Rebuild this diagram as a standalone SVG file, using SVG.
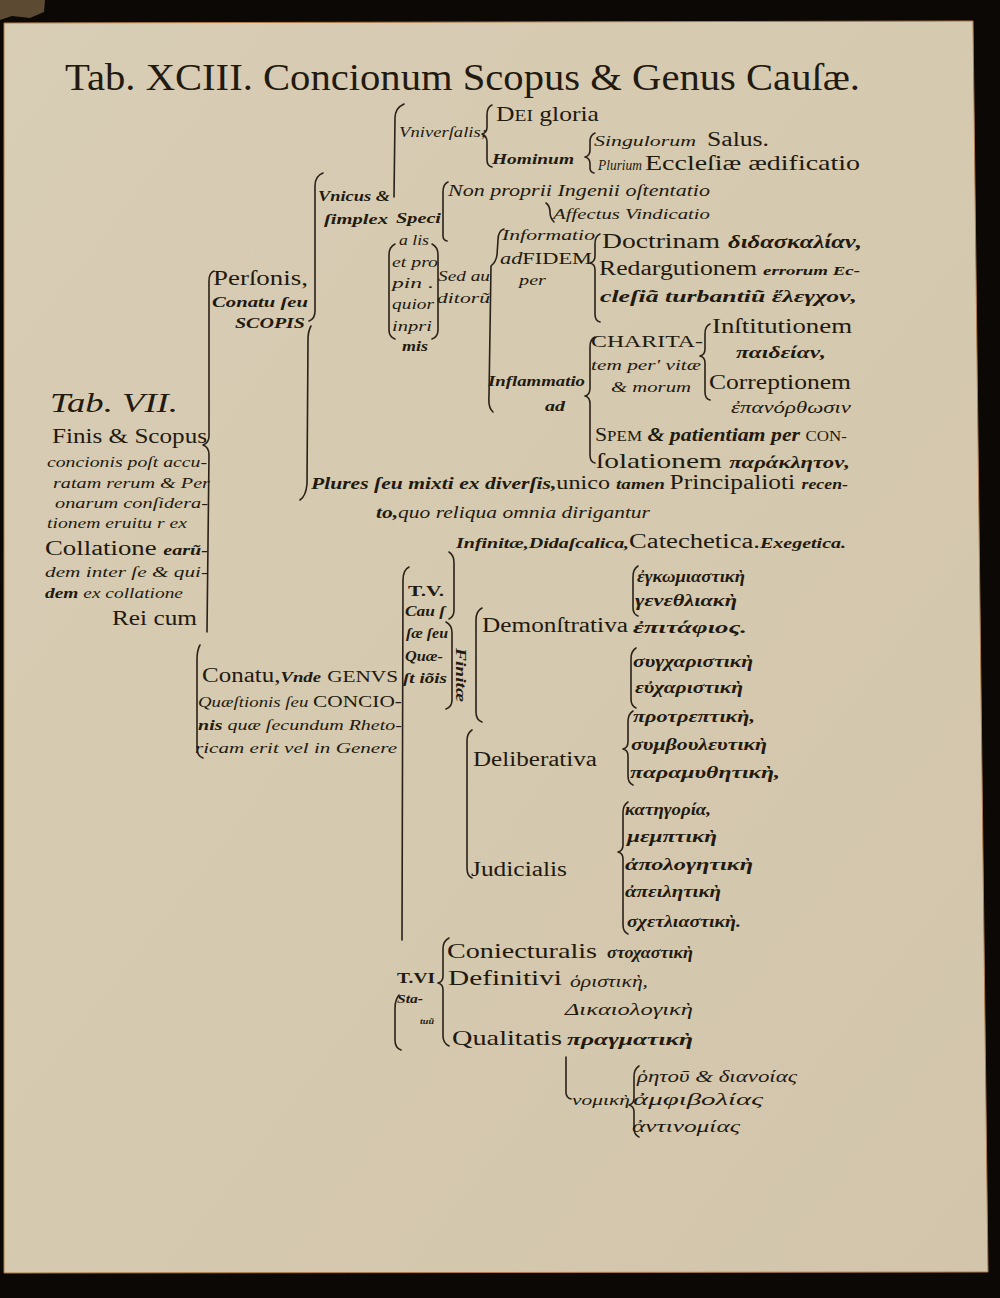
<svg xmlns="http://www.w3.org/2000/svg" width="1000" height="1298" viewBox="0 0 1000 1298">
<style>
.r{font-family:"Liberation Serif","Times New Roman",Times,serif;fill:#22190f}
.i{font-family:"Liberation Serif","Times New Roman",Times,serif;font-style:italic;fill:#22190f}
.b{font-weight:bold}
.c{fill:none;stroke:#2a2117;stroke-width:1.6;stroke-linecap:round;stroke-linejoin:round}
</style>
<defs>
<linearGradient id="paper" x1="0" y1="0" x2="1" y2="1">
<stop offset="0" stop-color="#d8cdb5"/>
<stop offset="0.5" stop-color="#d5c9af"/>
<stop offset="1" stop-color="#d2c5ab"/>
</linearGradient>
</defs>
<rect x="0" y="0" width="1000" height="1298" fill="#0b0806"/>
<polygon points="4,23 973,21 988,1272 4,1273" fill="url(#paper)" stroke="#b07a45" stroke-width="1"/>
<path d="M0,0 L45,0 L44,12 L30,18 L12,16 L0,20 Z" fill="#5c4a33"/>

<g id="title"><text class="r" x="65" y="90" font-size="38" textLength="795" lengthAdjust="spacingAndGlyphs">Tab. XCIII. Concionum Scopus &amp; Genus Cauſæ.</text></g>

<g id="connectors">
<path class="c" d="M214,271 Q209,273 209,281 L209,436 Q209,443 203,445 Q209,447 209,455 L207,632"/>
<path class="c" d="M200,645 Q197,650 197,660 L197,748 Q197,756 203,758"/>
<path class="c" d="M323,173 Q315,176 315,186 L315,311 Q315,319 309,321"/>
<path class="c" d="M311,326 Q308,331 308,340 L307,484 Q306,496 300,500"/>
<path class="c" d="M404,104 Q395,108 395,118 L394,197"/>
<path class="c" d="M492,105 Q487,107 487,115 L487,127 Q487,133 482,134 Q487,136 487,142 L487,160 Q487,166 492,167"/>
<path class="c" d="M595,133 Q590,135 590,142 L590,150 Q590,156 585,157 Q590,158 590,164 L590,168 Q590,172 594,173"/>
<path class="c" d="M448,182 Q443,184 443,192 L443,236 Q443,240 447,241"/>
<path class="c" d="M546,203 Q550,206 550,212 Q550,218 554,222"/>
<path class="c" d="M432,244 Q438,247 438,255 L438,330 Q438,337 432,339"/>
<path class="c" d="M395,244 Q389,247 389,255 L389,330 Q389,337 395,339"/>
<path class="c" d="M504,229 Q498,231 498,240 L497,255 Q496,262 491,266 L489,396 Q488,408 493,412"/>
<path class="c" d="M600,234 Q595,236 595,244 L595,256 Q595,262 590,263 Q595,264 595,270 L595,314 Q595,321 600,322"/>
<path class="c" d="M595,337 Q590,339 590,347 L590,388 Q590,395 585,396 Q590,397 590,404 L590,455 Q590,462 595,463"/>
<path class="c" d="M710,324 Q705,326 705,334 L705,349 Q705,355 700,356 Q705,357 705,363 L705,392 Q705,399 710,400"/>
<path class="c" d="M409,567 Q403,570 403,580 L402,940"/>
<path class="c" d="M399,995 Q395,1000 395,1008 L395,1040 Q395,1048 401,1050"/>
<path class="c" d="M449,552 Q454,555 454,563 L454,610 Q454,617 449,619"/>
<path class="c" d="M446,622 Q452,625 452,633 L452,700 Q452,707 446,709"/>
<path class="c" d="M482,608 Q476,611 476,620 L476,712 Q476,720 482,722"/>
<path class="c" d="M472,730 Q467,733 467,741 L467,868 Q467,876 472,878"/>
<path class="c" d="M638,566 Q633,569 633,577 L633,608 Q633,614 638,616"/>
<path class="c" d="M636,648 Q631,651 631,659 L631,699 Q631,706 636,708"/>
<path class="c" d="M633,711 Q628,714 628,722 L628,742 Q628,748 623,749 Q628,750 628,756 L628,776 Q628,783 633,785"/>
<path class="c" d="M628,802 Q623,805 623,813 L623,845 Q623,851 618,852 Q623,853 623,859 L623,925 Q623,932 628,934"/>
<path class="c" d="M449,938 Q443,941 443,949 L443,976 Q443,982 438,983 Q443,984 443,990 L443,1036 Q443,1043 449,1046"/>
<path class="c" d="M566,1057 L566,1092 Q566,1098 571,1099"/>
<path class="c" d="M639,1066 Q634,1069 634,1077 L634,1098 Q634,1104 629,1105 Q634,1106 634,1112 L634,1128 Q634,1135 639,1137"/>
</g>

<g id="n-dei"><text class="r" x="496" y="121" font-size="21" textLength="103" lengthAdjust="spacingAndGlyphs">D<tspan font-size="16">EI</tspan> gloria</text></g>
<g id="n-universalis"><text class="i" x="399" y="137" font-size="14" textLength="88" lengthAdjust="spacingAndGlyphs">Vniverſalis;</text></g>
<g id="n-singulorum"><text class="i" x="594" y="146" font-size="15" textLength="102" lengthAdjust="spacingAndGlyphs">Singulorum</text><text class="r" x="707" y="146" font-size="20" textLength="62" lengthAdjust="spacingAndGlyphs">Salus.</text></g>
<g id="n-hominum"><text class="i b" x="492" y="164" font-size="15" textLength="82" lengthAdjust="spacingAndGlyphs">Hominum</text></g>
<g id="n-plurium"><text class="i" x="598" y="170" font-size="14" textLength="44" lengthAdjust="spacingAndGlyphs">Plurium</text><text class="r" x="645" y="170" font-size="21" textLength="215" lengthAdjust="spacingAndGlyphs">Eccleſiæ ædificatio</text></g>
<g id="n-nonproprii"><text class="i" x="448" y="196" font-size="17" textLength="262" lengthAdjust="spacingAndGlyphs">Non proprii Ingenii oſtentatio</text></g>
<g id="n-vnicus"><text class="i b" x="318" y="201" font-size="15" textLength="72" lengthAdjust="spacingAndGlyphs">Vnicus &amp;</text><text class="i b" x="324" y="224" font-size="15" textLength="64" lengthAdjust="spacingAndGlyphs">ſimplex</text></g>
<g id="n-affectus"><text class="i" x="553" y="219" font-size="15" textLength="157" lengthAdjust="spacingAndGlyphs">Affectus Vindicatio</text></g>
<g id="n-specialis">
<text class="i b" x="396" y="223" font-size="15" textLength="45" lengthAdjust="spacingAndGlyphs">Speci</text>
<text class="i" x="399" y="245" font-size="15" textLength="30" lengthAdjust="spacingAndGlyphs">a lis</text>
<text class="i" x="392" y="267" font-size="15" textLength="46" lengthAdjust="spacingAndGlyphs">et pro</text>
<text class="i" x="392" y="288" font-size="15" textLength="42" lengthAdjust="spacingAndGlyphs">pin .</text>
<text class="i" x="392" y="309" font-size="15" textLength="42" lengthAdjust="spacingAndGlyphs">quior</text>
<text class="i" x="392" y="331" font-size="15" textLength="40" lengthAdjust="spacingAndGlyphs">inpri</text>
<text class="i b" x="402" y="351" font-size="14" textLength="26" lengthAdjust="spacingAndGlyphs">mis</text>
</g>
<g id="n-sedauditorum"><text class="i" x="438" y="281" font-size="15" textLength="52" lengthAdjust="spacingAndGlyphs">Sed au</text><text class="i" x="437" y="303" font-size="15" textLength="53" lengthAdjust="spacingAndGlyphs">ditorũ</text></g>
<g id="n-informatio"><text class="i" x="502" y="240" font-size="14" textLength="93" lengthAdjust="spacingAndGlyphs">Informatio</text><text class="r" x="500" y="264" font-size="16" textLength="92" lengthAdjust="spacingAndGlyphs"><tspan font-style="italic">ad</tspan>FIDEM</text><text class="i" x="519" y="285" font-size="15" textLength="27" lengthAdjust="spacingAndGlyphs">per</text></g>
<g id="n-doctrinam"><text class="r" x="602" y="248" font-size="22" textLength="118" lengthAdjust="spacingAndGlyphs">Doctrinam</text><text class="i b" x="728" y="248" font-size="18" textLength="134" lengthAdjust="spacingAndGlyphs">διδασκαλίαν,</text></g>
<g id="n-redargutionem"><text class="r" x="599" y="275" font-size="20" textLength="158" lengthAdjust="spacingAndGlyphs">Redargutionem</text><text class="i b" x="763" y="275" font-size="13" textLength="97" lengthAdjust="spacingAndGlyphs">errorum Ec-</text><text class="i b" x="600" y="302" font-size="17" textLength="257" lengthAdjust="spacingAndGlyphs">cleſiã turbantiũ ἔλεγχον,</text></g>
<g id="n-institutionem"><text class="r" x="712" y="333" font-size="20" textLength="140" lengthAdjust="spacingAndGlyphs">Inſtitutionem</text><text class="i b" x="736" y="358" font-size="17" textLength="90" lengthAdjust="spacingAndGlyphs">παιδείαν,</text></g>
<g id="n-charitatem"><text class="r" x="591" y="347" font-size="17" textLength="112" lengthAdjust="spacingAndGlyphs">CHARITA-</text><text class="i" x="591" y="370" font-size="14" textLength="110" lengthAdjust="spacingAndGlyphs">tem per' vitæ</text><text class="i" x="611" y="392" font-size="15" textLength="80" lengthAdjust="spacingAndGlyphs">&amp; morum</text></g>
<g id="n-inflammatio"><text class="i b" x="488" y="386" font-size="14" textLength="97" lengthAdjust="spacingAndGlyphs">Inflammatio</text><text class="i b" x="545" y="411" font-size="14" textLength="20" lengthAdjust="spacingAndGlyphs">ad</text></g>
<g id="n-correptionem"><text class="r" x="709" y="389" font-size="20" textLength="142" lengthAdjust="spacingAndGlyphs">Correptionem</text><text class="i" x="731" y="413" font-size="17" textLength="120" lengthAdjust="spacingAndGlyphs">ἐπανόρθωσιν</text></g>
<g id="n-spem"><text class="r" x="595" y="441" font-size="18" textLength="252" lengthAdjust="spacingAndGlyphs">S<tspan font-size="14">PEM</tspan> <tspan font-style="italic" font-weight="bold">&amp; patientiam per</tspan> <tspan font-size="14">CON-</tspan></text><text class="r" x="596" y="468" font-size="22" textLength="254" lengthAdjust="spacingAndGlyphs">ſolationem <tspan font-style="italic" font-weight="bold" font-size="17">παράκλητον,</tspan></text></g>
<g id="n-plures"><text class="i" x="311" y="489" font-size="17" textLength="537" lengthAdjust="spacingAndGlyphs"><tspan font-weight="bold">Plures ſeu mixti ex diverſis,</tspan><tspan font-style="normal" font-size="19">unico </tspan><tspan font-weight="bold" font-size="15">tamen </tspan><tspan font-style="normal" font-size="20">Principalioti </tspan><tspan font-size="14" font-weight="bold">recen-</tspan></text><text class="i" x="376" y="518" font-size="17" textLength="274" lengthAdjust="spacingAndGlyphs"><tspan font-weight="bold">to,</tspan>quo reliqua omnia dirigantur</text></g>
<g id="n-infinitae"><text class="i" x="456" y="548" font-size="15" textLength="390" lengthAdjust="spacingAndGlyphs"><tspan font-weight="bold">Infinitæ,Didaſcalica,</tspan><tspan font-style="normal" font-size="20">Catechetica.</tspan><tspan font-weight="bold">Exegetica.</tspan></text></g>

<g id="n-tab7">
<text class="i" x="50" y="412" font-size="28" textLength="128" lengthAdjust="spacingAndGlyphs">Tab. VII.</text>
<text class="r" x="52" y="443" font-size="20" textLength="155" lengthAdjust="spacingAndGlyphs">Finis &amp; Scopus</text>
<text class="i" x="47" y="467" font-size="14" textLength="160" lengthAdjust="spacingAndGlyphs">concionis poſt accu-</text>
<text class="i" x="53" y="488" font-size="14" textLength="157" lengthAdjust="spacingAndGlyphs">ratam rerum &amp; Per</text>
<text class="i" x="55" y="508" font-size="14" textLength="153" lengthAdjust="spacingAndGlyphs">onarum conſidera-</text>
<text class="i" x="47" y="528" font-size="14" textLength="140" lengthAdjust="spacingAndGlyphs">tionem eruitu r ex</text>
<text class="r" x="45" y="555" font-size="20" textLength="163" lengthAdjust="spacingAndGlyphs">Collatione <tspan font-style="italic" font-weight="bold" font-size="15">earũ-</tspan></text>
<text class="i" x="45" y="577" font-size="14" textLength="163" lengthAdjust="spacingAndGlyphs">dem inter ſe &amp; qui-</text>
<text class="i" x="45" y="598" font-size="14" textLength="138" lengthAdjust="spacingAndGlyphs"><tspan font-weight="bold">dem</tspan> ex collatione</text>
<text class="r" x="112" y="625" font-size="21" textLength="85" lengthAdjust="spacingAndGlyphs">Rei cum</text>
</g>
<g id="n-personis"><text class="r" x="213" y="285" font-size="20" textLength="95" lengthAdjust="spacingAndGlyphs">Perſonis,</text><text class="i b" x="212" y="307" font-size="14" textLength="96" lengthAdjust="spacingAndGlyphs">Conatu ſeu</text><text class="i b" x="235" y="328" font-size="15" textLength="70" lengthAdjust="spacingAndGlyphs">SCOPIS</text></g>
<g id="n-conatu">
<text class="r" x="202" y="682" font-size="20" textLength="196" lengthAdjust="spacingAndGlyphs">Conatu,<tspan font-style="italic" font-weight="bold" font-size="15">Vnde</tspan> <tspan font-size="17">GENVS</tspan></text>
<text class="i" x="198" y="707" font-size="15" textLength="204" lengthAdjust="spacingAndGlyphs">Quæſtionis ſeu <tspan font-style="normal" font-size="17">CONCIO-</tspan></text>
<text class="i" x="198" y="730" font-size="15" textLength="204" lengthAdjust="spacingAndGlyphs"><tspan font-weight="bold">nis</tspan> quæ ſecundum Rheto-</text>
<text class="i" x="195" y="753" font-size="15" textLength="202" lengthAdjust="spacingAndGlyphs">ricam erit vel in Genere</text>
</g>
<g id="n-tv">
<text class="r b" x="408" y="596" font-size="15" textLength="36" lengthAdjust="spacingAndGlyphs">T.V.</text>
<text class="i b" x="405" y="616" font-size="14" textLength="40" lengthAdjust="spacingAndGlyphs">Cau ſ</text>
<text class="i b" x="406" y="638" font-size="14" textLength="42" lengthAdjust="spacingAndGlyphs">ſæ ſeu</text>
<text class="i b" x="405" y="661" font-size="14" textLength="38" lengthAdjust="spacingAndGlyphs">Quæ-</text>
<text class="i b" x="403" y="683" font-size="14" textLength="44" lengthAdjust="spacingAndGlyphs">ſt iõis</text>
</g>
<g id="n-finitae"><text class="i b" transform="translate(456,648) rotate(90)" font-size="14" textLength="54" lengthAdjust="spacingAndGlyphs">Finitæ</text></g>
<g id="n-demonstrativa"><text class="r" x="482" y="632" font-size="20" textLength="146" lengthAdjust="spacingAndGlyphs">Demonſtrativa</text></g>
<g id="n-deliberativa"><text class="r" x="473" y="766" font-size="20" textLength="124" lengthAdjust="spacingAndGlyphs">Deliberativa</text></g>
<g id="n-judicialis"><text class="r" x="471" y="876" font-size="20" textLength="96" lengthAdjust="spacingAndGlyphs">Judicialis</text></g>
<g id="n-greek-demo">
<text class="i b" x="637" y="582" font-size="16" textLength="108" lengthAdjust="spacingAndGlyphs">ἐγκωμιαστικὴ</text>
<text class="i b" x="635" y="606" font-size="16" textLength="102" lengthAdjust="spacingAndGlyphs">γενεθλιακὴ</text>
<text class="i b" x="633" y="633" font-size="17" textLength="114" lengthAdjust="spacingAndGlyphs">ἐπιτάφιος.</text>
<text class="i b" x="633" y="667" font-size="16" textLength="120" lengthAdjust="spacingAndGlyphs">συγχαριστικὴ</text>
<text class="i b" x="635" y="693" font-size="16" textLength="108" lengthAdjust="spacingAndGlyphs">εὐχαριστικὴ</text>
</g>
<g id="n-greek-delib">
<text class="i b" x="633" y="722" font-size="16" textLength="122" lengthAdjust="spacingAndGlyphs">προτρεπτικὴ,</text>
<text class="i b" x="631" y="750" font-size="16" textLength="136" lengthAdjust="spacingAndGlyphs">συμβουλευτικὴ</text>
<text class="i b" x="630" y="778" font-size="16" textLength="150" lengthAdjust="spacingAndGlyphs">παραμυθητικὴ,</text>
</g>
<g id="n-greek-judic">
<text class="i b" x="625" y="815" font-size="16" textLength="86" lengthAdjust="spacingAndGlyphs">κατηγορία,</text>
<text class="i b" x="627" y="842" font-size="16" textLength="90" lengthAdjust="spacingAndGlyphs">μεμπτικὴ</text>
<text class="i b" x="625" y="870" font-size="16" textLength="128" lengthAdjust="spacingAndGlyphs">ἀπολογητικὴ</text>
<text class="i b" x="625" y="897" font-size="16" textLength="96" lengthAdjust="spacingAndGlyphs">ἀπειλητικὴ</text>
<text class="i b" x="627" y="927" font-size="16" textLength="114" lengthAdjust="spacingAndGlyphs">σχετλιαστικὴ.</text>
</g>
<g id="n-status">
<text class="r" x="447" y="958" font-size="22" textLength="150" lengthAdjust="spacingAndGlyphs">Coniecturalis</text>
<text class="i b" x="607" y="958" font-size="16" textLength="86" lengthAdjust="spacingAndGlyphs">στοχαστικὴ</text>
<text class="r b" x="397" y="983" font-size="14" textLength="38" lengthAdjust="spacingAndGlyphs">T.VI</text>
<text class="r" x="448" y="985" font-size="22" textLength="114" lengthAdjust="spacingAndGlyphs">Definitivi</text>
<text class="i" x="570" y="987" font-size="16" textLength="78" lengthAdjust="spacingAndGlyphs">ὁριστικὴ,</text>
<text class="i b" x="397" y="1003" font-size="13" textLength="26" lengthAdjust="spacingAndGlyphs">Sta-</text>
<text class="i b" x="420" y="1024" font-size="9" textLength="14" lengthAdjust="spacingAndGlyphs">tuũ</text>
<text class="i" x="565" y="1015" font-size="16" textLength="128" lengthAdjust="spacingAndGlyphs">Δικαιολογικὴ</text>
<text class="r" x="452" y="1045" font-size="22" textLength="110" lengthAdjust="spacingAndGlyphs">Qualitatis</text>
<text class="i b" x="567" y="1045" font-size="16" textLength="126" lengthAdjust="spacingAndGlyphs">πραγματικὴ</text>
</g>
<g id="n-nomike">
<text class="i" x="637" y="1082" font-size="16" textLength="160" lengthAdjust="spacingAndGlyphs">ῥητοῦ &amp; διανοίας</text>
<text class="i" x="572" y="1105" font-size="15" textLength="58" lengthAdjust="spacingAndGlyphs">νομικὴ</text>
<text class="i" x="633" y="1105" font-size="16" textLength="130" lengthAdjust="spacingAndGlyphs">ἀμφιβολίας</text>
<text class="i" x="632" y="1132" font-size="16" textLength="108" lengthAdjust="spacingAndGlyphs">ἀντινομίας</text>
</g>
</svg>
